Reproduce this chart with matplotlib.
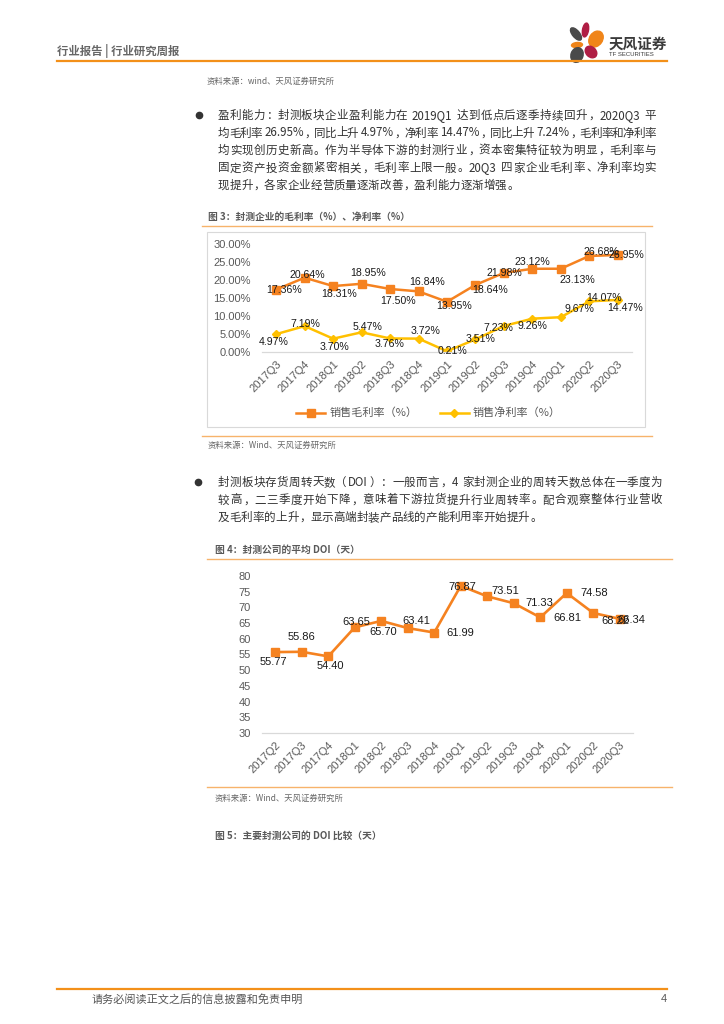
import re
import matplotlib
matplotlib.use("Agg")
import matplotlib.pyplot as plt
from matplotlib.patches import Ellipse, Rectangle
from matplotlib.lines import Line2D

plt.rcParams['font.family'] = ['Noto Sans CJK SC', 'DejaVu Sans']

# ---- data ----
quarters1 = ['2017Q3', '2017Q4', '2018Q1', '2018Q2', '2018Q3', '2018Q4', '2019Q1',
             '2019Q2', '2019Q3', '2019Q4', '2020Q1', '2020Q2', '2020Q3']
gross_margin = [17.36, 20.64, 18.31, 18.95, 17.50, 16.84, 13.95, 18.64, 21.98, 23.12, 23.13, 26.68, 26.95]
net_margin = [4.97, 7.19, 3.70, 5.47, 3.76, 3.72, 0.21, 3.51, 7.23, 9.26, 9.67, 14.07, 14.47]

quarters2 = ['2017Q2', '2017Q3', '2017Q4', '2018Q1', '2018Q2', '2018Q3', '2018Q4',
             '2019Q1', '2019Q2', '2019Q3', '2019Q4', '2020Q1', '2020Q2', '2020Q3']
doi_days = [55.77, 55.86, 54.40, 63.65, 65.70, 63.41, 61.99, 76.87, 73.51, 71.33, 66.81, 74.58, 68.22, 66.34]

para1 = ["盈利能力：封测板块企业盈利能力在 2019Q1 达到低点后逐季持续回升，2020Q3 平",
         "均毛利率 26.95%，同比上升 4.97%，净利率 14.47%，同比上升 7.24%，毛利率和净利率",
         "均实现创历史新高。作为半导体下游的封测行业，资本密集特征较为明显，毛利率与",
         "固定资产投资金额紧密相关，毛利率上限一般。20Q3 四家企业毛利率、净利率均实",
         "现提升，各家企业经营质量逐渐改善，盈利能力逐渐增强。"]
para2 = ["封测板块存货周转天数（DOI）：一般而言，4 家封测企业的周转天数总体在一季度为",
         "较高，二三季度开始下降，意味着下游拉货提升行业周转率。配合观察整体行业营收",
         "及毛利率的上升，显示高端封装产品线的产能利用率开始提升。"]

# label offsets in pixels (dx right, dy down)
off_gross = [(8, 0), (3, -3), (6, 8), (6, -11), (8, 12), (9, -9), (7, 4), (15, 5), (0, 0), (0, -7), (17, 11), (12, -4), (9, 0)]
off_net = [(-3, 8), (1, -2), (1, 8), (6, -5), (-1, 6), (7, -8), (5, 0), (5, 0), (-6, 2), (0, 7), (19, -8), (15, -3), (7, 8)]
off_doi = [(-2, 10), (0, -15), (2, 10), (2, -5), (2, 11), (9, -7), (26, 0), (2, 1), (18, -5), (26, 0), (27, 1), (27, 0), (22, 8), (12, 1)]

ORANGE = '#F58220'
YELLOW = '#FFC000'
LINE_OR = '#F39019'
GRAY = '#595959'
NUMFONT = ['Liberation Sans', 'DejaVu Sans']

W, H = 724, 1024
fig = plt.figure(figsize=(W / 100, H / 100), dpi=100)
renderer = fig.canvas.get_renderer()


def fx(x):
    return x / W


def fy(y):
    return 1 - y / H


def ftext(x, y, s, **kw):
    return fig.text(fx(x), fy(y), s, **kw)


def hline(x0, x1, y, color=LINE_OR, lw=1.5):
    fig.add_artist(Line2D([fx(x0), fx(x1)], [fy(y), fy(y)], color=color, lw=lw))


LEFT_INK = set('，。、）：；')
RIGHT_INK = set('（')


def paragraph(lines, x0, y0, dy, right, size=8.3, color='#333333'):
    # justified body text; full-width chars take one em each
    em = size * 100 / 72
    space_w = 0.28 * em
    for i, line in enumerate(lines):
        toks = re.findall(r'[A-Za-z0-9.%]+| |[^\x00-\x7f]', line)
        widths = []
        for t in toks:
            if t == ' ':
                widths.append(space_w)
            elif ord(t[0]) > 127:
                widths.append(em)
            else:
                tmp = ftext(0, 0, t, fontsize=size)
                widths.append(tmp.get_window_extent(renderer).width + 1.0)
                tmp.remove()
        gap = 0.0
        if i < len(lines) - 1 and len(toks) > 1:
            gap = (right - x0 - sum(widths)) / (len(toks) - 1)
        x = x0
        yb = y0 + i * dy + 4
        for t, w in zip(toks, widths):
            if t != ' ':
                if t in LEFT_INK:
                    ftext(x + 0.1 * em, yb, t, fontsize=size, color=color, va='baseline', ha='left')
                elif t in RIGHT_INK:
                    ftext(x + 0.9 * em, yb, t, fontsize=size, color=color, va='baseline', ha='right')
                elif ord(t[0]) > 127:
                    ftext(x + 0.5 * em, yb, t, fontsize=size, color=color, va='baseline', ha='center')
                else:
                    ftext(x + 0.5, yb, t, fontsize=size, color=color, va='baseline', ha='left')
            x += w + gap


# ---- page header ----
ftext(57, 51, "行业报告 | 行业研究周报", fontsize=8.2, fontweight='bold', color='#666666', va='center')
hline(57, 667, 61, lw=1.6)

logo = fig.add_axes([fx(569), fy(64), 36 / W, 42 / H])
logo.set_xlim(0, 36)
logo.set_ylim(0, 42)
logo.axis('off')
petals = [((7, 30), 7, 15, 40, '#4a4a4a'),
          ((16.5, 34), 6, 14, -10, '#B01E44'),
          ((27, 25), 13, 17, -35, '#F08519'),
          ((8, 19), 11, 5, 5, '#F08519'),
          ((22, 12), 10, 13, 45, '#B01E44'),
          ((8, 9), 12, 15, -20, '#4a4a4a')]
for c, w, h, ang, col in petals:
    logo.add_patch(Ellipse(c, w, h, angle=ang, color=col))
ftext(609, 44, "天风证券", fontsize=10.5, fontweight='bold', color='#3a3a3a', va='center')
ftext(609, 55, "TF SECURITIES", fontsize=4.3, color='#3a3a3a', va='center', family=NUMFONT)

ftext(207, 81, "资料来源：wind、天风证券研究所", fontsize=6, color='#666666', va='center')

# ---- paragraph 1 ----
fig.add_artist(Line2D([fx(199)], [fy(115)], marker='o', ms=4.5, color='#333333', lw=0))
paragraph(para1, 218, 115, 17.5, 656)

# ---- figure 3 ----
ftext(208, 217, "图 3：封测企业的毛利率（%）、净利率（%）", fontsize=7.0, fontweight='bold',
      color=GRAY, va='center')
hline(202, 652, 226, color='#F7B36B', lw=1.0)
fig.add_artist(Rectangle((fx(207), fy(427)), fx(645) - fx(207), fy(232) - fy(427),
                         fill=False, edgecolor='#d9d9d9', lw=0.8))

ax1 = fig.add_axes([fx(262), fy(352), 370 / W, 108 / H])
x1 = list(range(len(quarters1)))
ax1.plot(x1, gross_margin, color=ORANGE, lw=1.8, marker='s', ms=6, label='销售毛利率（%）')
ax1.plot(x1, net_margin, color=YELLOW, lw=1.8, marker='D', ms=4.5, label='销售净利率（%）')
for xi, v, (dx, dy) in zip(x1, gross_margin, off_gross):
    ax1.annotate(f"{v:.2f}%", (xi, v), xytext=(dx, -dy), textcoords='offset pixels',
                 ha='center', va='center', fontsize=7.6, color='#1a1a1a', family=NUMFONT)
for xi, v, (dx, dy) in zip(x1, net_margin, off_net):
    ax1.annotate(f"{v:.2f}%", (xi, v), xytext=(dx, -dy), textcoords='offset pixels',
                 ha='center', va='center', fontsize=7.6, color='#1a1a1a', family=NUMFONT)
ax1.set_xlim(-0.5, len(quarters1) - 0.5)
ax1.set_ylim(0, 30)
ax1.set_yticks(range(0, 31, 5))
ax1.set_yticklabels([f"{t:.2f}%" for t in range(0, 31, 5)], family=NUMFONT)
ax1.set_xticks(x1)
ax1.set_xticklabels(quarters1, rotation=45, ha='right', va='top', rotation_mode='anchor', family=NUMFONT)
ax1.legend(loc='center', bbox_to_anchor=(0.45, -0.565), ncol=2, frameon=False, fontsize=8,
           labelcolor=GRAY, handlelength=2.6, columnspacing=2.0, handletextpad=0.4)

# ---- figure 3 source ----
hline(202, 652, 436, color='#F7B36B', lw=1.0)
ftext(208, 445, "资料来源：Wind、天风证券研究所", fontsize=6, color='#666666', va='center')

# ---- paragraph 2 ----
fig.add_artist(Line2D([fx(198)], [fy(482)], marker='o', ms=4.5, color='#333333', lw=0))
paragraph(para2, 218, 482, 17.5, 662)

# ---- figure 4 ----
ftext(215, 550, "图 4：封测公司的平均 DOI（天）", fontsize=7.0, fontweight='bold', color=GRAY, va='center')
hline(207, 672, 559, color='#F7B36B', lw=1.0)

ax2 = fig.add_axes([fx(262), fy(733), 371 / W, 157 / H])
x2 = list(range(len(quarters2)))
ax2.plot(x2, doi_days, color=ORANGE, lw=1.9, marker='s', ms=6.3)
for xi, v, (dx, dy) in zip(x2, doi_days, off_doi):
    ax2.annotate(f"{v:.2f}", (xi, v), xytext=(dx, -dy), textcoords='offset pixels',
                 ha='center', va='center', fontsize=8, color='#1a1a1a', family=NUMFONT)
ax2.set_xlim(-0.5, len(quarters2) - 0.5)
ax2.set_ylim(30, 80)
ax2.set_yticks(range(30, 81, 5))
ax2.set_yticklabels([str(t) for t in range(30, 81, 5)], family=NUMFONT)
ax2.set_xticks(x2)
ax2.set_xticklabels(quarters2, rotation=45, ha='right', va='top', rotation_mode='anchor', family=NUMFONT)

hline(207, 672, 787, color='#F7B36B', lw=1.0)
ftext(215, 798, "资料来源：Wind、天风证券研究所", fontsize=6, color='#666666', va='center')
ftext(215, 836, "图 5：主要封测公司的 DOI 比较（天）", fontsize=7.0, fontweight='bold', color=GRAY, va='center')

for ax in (ax1, ax2):
    for s in ('top', 'right', 'left'):
        ax.spines[s].set_visible(False)
    ax.spines['bottom'].set_color('#d9d9d9')
    ax.spines['bottom'].set_linewidth(0.9)
    ax.tick_params(length=0, colors=GRAY, labelsize=8)
    ax.tick_params(axis='x', pad=5)
    ax.tick_params(axis='y', pad=8)
    ax.patch.set_visible(False)

# ---- footer ----
hline(57, 667, 989, lw=1.6)
ftext(92, 999, "请务必阅读正文之后的信息披露和免责申明", fontsize=8, color='#555555', va='center')
ftext(661, 999, "4", fontsize=8, color='#555555', va='center', family=NUMFONT)

fig.savefig("out.png", dpi=100)
